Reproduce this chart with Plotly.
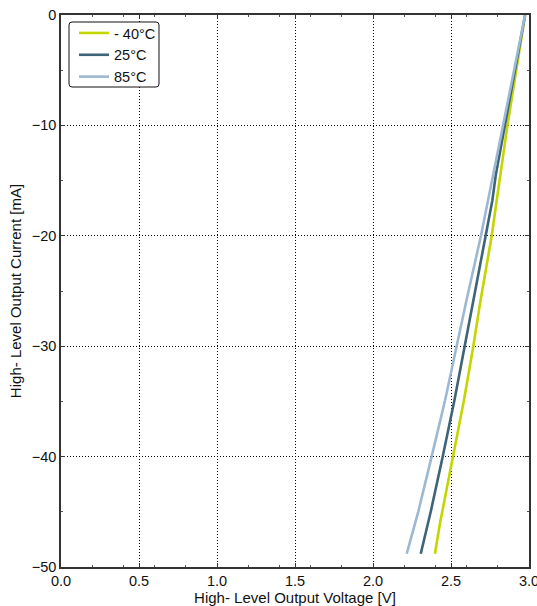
import plotly.graph_objects as go

# Current (mA) sample points and output voltage (V) per temperature
cur_85 = [0, -5, -10, -14, -15.5, -16.8, -20, -25.8, -30, -34.9, -40, -45, -48.8]
v_85 = [2.975, 2.905, 2.833, 2.78, 2.756, 2.74, 2.692, 2.60, 2.536, 2.462, 2.376, 2.29, 2.216]

cur_25 = [0, -5, -10, -14.5, -16.8, -20, -25.8, -30, -34.9, -40, -45, -48.8]
v_25 = [2.975, 2.91, 2.844, 2.787, 2.765, 2.722, 2.643, 2.590, 2.522, 2.447, 2.37, 2.306]

cur_m40 = [0, -5, -10, -16.8, -20, -25.8, -30, -34.9, -40, -46, -48.8]
v_m40 = [2.975, 2.918, 2.862, 2.793, 2.761, 2.69, 2.643, 2.583, 2.511, 2.43, 2.397]

names = ["- 40°C", "25°C", "85°C"]
colors = ["#c4d600", "#3e6478", "#9db8d2"]

x_ticks = [0.0, 0.5, 1.0, 1.5, 2.0, 2.5, 3.0]
x_tick_text = ["0.0", "0.5", "1.0", "1.5", "2.0", "2.5", "3.0"]
y_ticks = [0, -10, -20, -30, -40, -50]
y_tick_text = ["0", "\u221210", "\u221220", "\u221230", "\u221240", "\u221250"]

FONT = "Liberation Sans, Arial, sans-serif"

fig = go.Figure()
for xs, ys, nm, c in [(v_m40, cur_m40, names[0], colors[0]),
                      (v_25, cur_25, names[1], colors[1]),
                      (v_85, cur_85, names[2], colors[2])]:
    fig.add_trace(go.Scatter(x=xs, y=ys, mode="lines", name=nm,
                             line=dict(color=c, width=2.6)))

axis_common = dict(
    showline=True, linecolor="#333333", linewidth=1.5, mirror="ticks",
    ticks="inside", ticklen=4, tickcolor="#333333",
    showgrid=True, gridcolor="#000000", griddash="1px,2px", gridwidth=1,
    zeroline=False, automargin=False, ticklabeloverflow="allow",
    tickfont=dict(family=FONT, size=14.5, color="#111111"),
    minor=dict(ticks="inside", ticklen=2, tickcolor="#555555", showgrid=False),
)

fig.update_xaxes(range=[0, 3.0], tickvals=x_ticks, ticktext=x_tick_text,
                 title=dict(text="High- Level Output Voltage [V]", standoff=1,
                            font=dict(family=FONT, size=15, color="#111111")),
                 **axis_common)
fig.update_yaxes(range=[-50, 0], tickvals=y_ticks, ticktext=y_tick_text,
                 title=dict(text="High- Level Output Current [mA]", standoff=6,
                            font=dict(family=FONT, size=15, color="#111111")),
                 **axis_common)

# rounded legend frame (paper coords computed from the plot area size)
pw, ph = 468.0, 552.0
x0, x1 = 8 / pw, 98 / pw
y1, y0 = 1 - 7 / ph, 1 - 72 / ph
rx, ry = 3 / pw, 3 / ph
path = (f"M {x0+rx},{y1} L {x1-rx},{y1} Q {x1},{y1} {x1},{y1-ry} "
        f"L {x1},{y0+ry} Q {x1},{y0} {x1-rx},{y0} L {x0+rx},{y0} "
        f"Q {x0},{y0} {x0},{y0+ry} L {x0},{y1-ry} Q {x0},{y1} {x0+rx},{y1} Z")
fig.add_shape(type="path", path=path, xref="paper", yref="paper",
              fillcolor="white", line=dict(color="#111111", width=1), layer="above")

fig.update_layout(
    width=537, height=606, autosize=False,
    margin=dict(l=61, r=8, t=15, b=39),
    paper_bgcolor="white", plot_bgcolor="white",
    showlegend=True,
    legend=dict(x=13 / pw, y=1 - 2 / ph, xanchor="left", yanchor="top",
                bgcolor="rgba(0,0,0,0)", borderwidth=0,
                font=dict(family=FONT, size=14.5, color="#111111"),
                itemwidth=30, tracegroupgap=0),
    font=dict(family=FONT, size=14, color="#111111"),
)

fig.write_html("out.html",
               config={"responsive": False, "displayModeBar": False},
               post_script="document.body.style.margin='0';document.documentElement.style.overflow='hidden';")
